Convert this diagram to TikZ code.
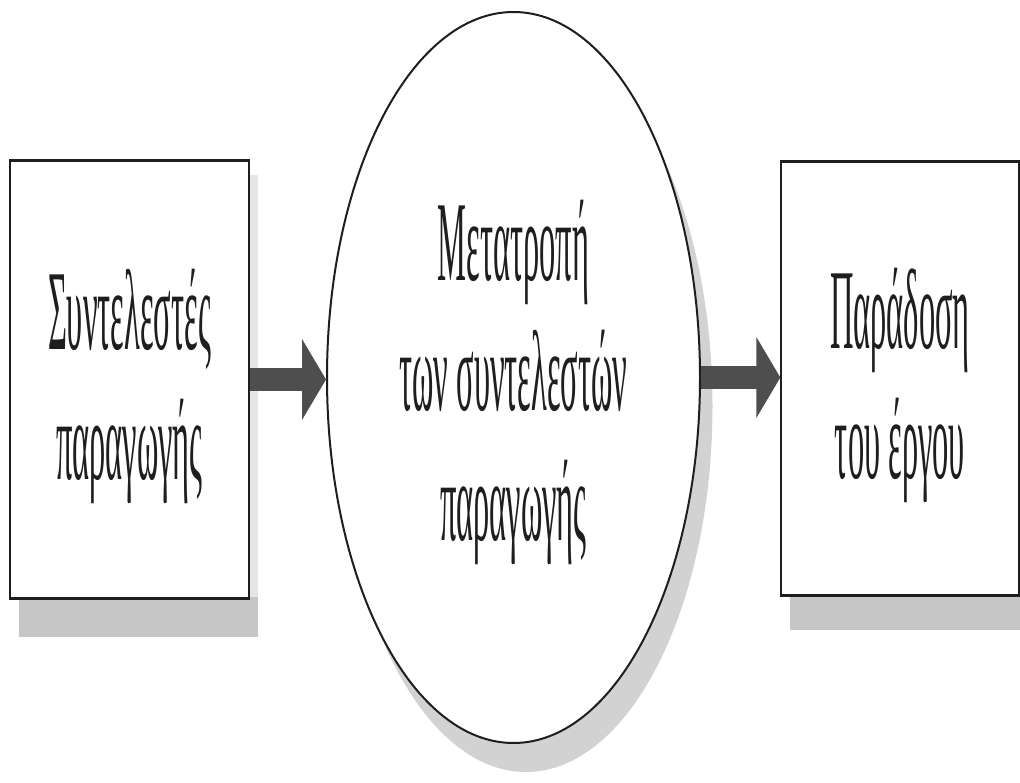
\documentclass[tikz,border=0pt]{standalone}
\usepackage{fontspec}
\newfontfamily\diagfont{Liberation Serif}[FakeStretch=0.285]
\usetikzlibrary{arrows.meta,shapes.geometric}
\definecolor{inkline}{HTML}{1E1E1E}
\definecolor{arrowgray}{HTML}{4E4E4E}
\definecolor{shadedeep}{HTML}{C6C6C6}
\definecolor{shadelight}{HTML}{E6E6E6}
\definecolor{ovalshade}{HTML}{D2D2D2}
\begin{document}
\begin{tikzpicture}[x=1pt,y=-1pt,
  labeltext/.style={align=center, text=inkline, inner sep=0pt,
    font=\diagfont\fontsize{114}{130}\selectfont},
  stagebox/.style={rectangle, draw=inkline, line width=1.3pt,
    fill=white, inner sep=0pt},
  stageoval/.style={ellipse, draw=inkline, line width=2pt,
    fill=white, inner sep=0pt},
  boxedge/.style={draw=inkline, line width=3pt},
  flow/.style={draw=arrowgray, line width=23pt,
    -{Triangle[length=24pt,width=80pt]}}
]
\useasboundingbox (0,0) rectangle (1020,783);

% drop shadows behind the shapes
\fill[shadelight] (249,175) rectangle (258,598);
\fill[shadedeep] (19,597) rectangle (258,637);
\fill[shadedeep] (790,594) rectangle (1020,630);
\fill[ovalshade] (526,406) ellipse [x radius=186.5, y radius=366];

% the three stages
\node[stagebox, minimum width=239pt, minimum height=437pt]
  (inputs) at (129.5,379.5) {};
\node[stageoval, minimum width=373pt, minimum height=731pt]
  (transform) at (513.5,377.5) {};
\node[stagebox, minimum width=238pt, minimum height=433pt]
  (output) at (900,378.5) {};

% heavier top and bottom rules of the boxes
\draw[boxedge] (inputs.north west) -- (inputs.north east);
\draw[boxedge] (inputs.south west) -- (inputs.south east);
\draw[boxedge] (output.north west) -- (output.north east);
\draw[boxedge] (output.south west) -- (output.south east);

% stage labels
\node[labeltext] (inputs-text) at ([yshift=-7pt]inputs.center)
  {Συντελεστές\\παραγωγής};
\node[labeltext] (transform-text) at ([yshift=-5pt]transform.center)
  {Μετατροπή\\των συντελεστών\\παραγωγής};
\node[labeltext] (output-text) at ([yshift=-7pt]output.center)
  {Παράδοση\\του έργου};

% flow arrows
\draw[flow] (inputs.east) -- (inputs.east -| transform.west);
\draw[flow] (transform.east) -- (transform.east -| output.west);
\end{tikzpicture}
\end{document}
